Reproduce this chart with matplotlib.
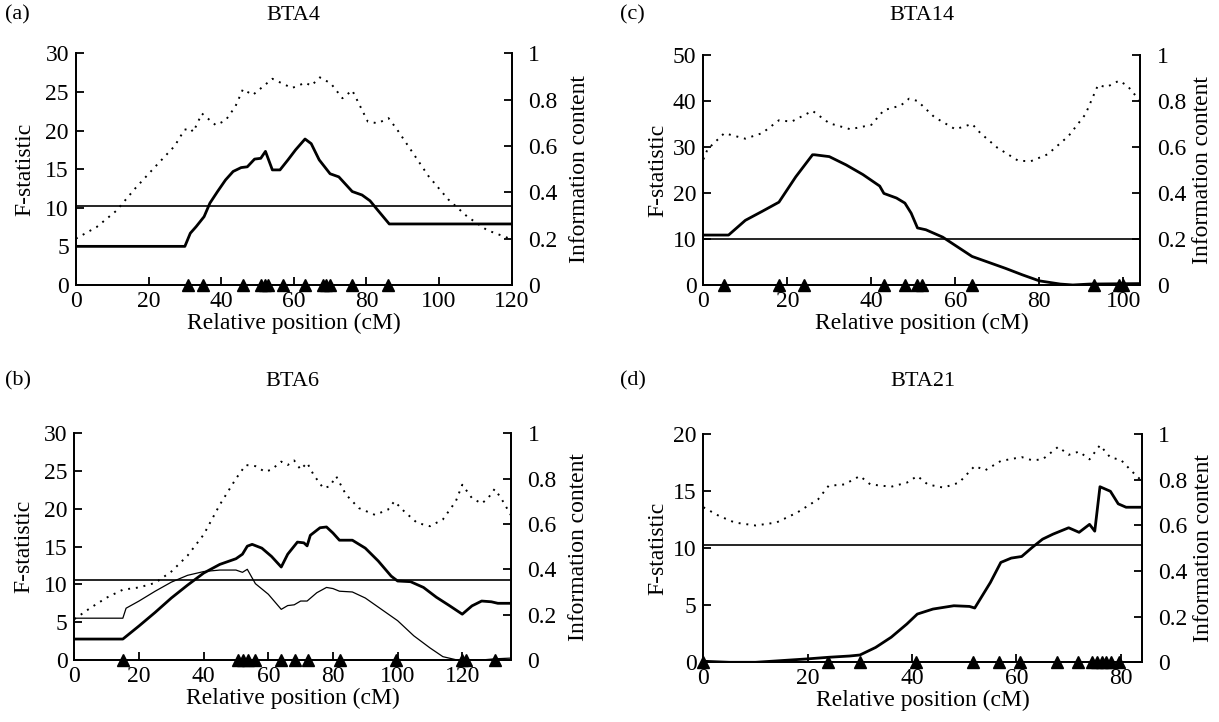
import matplotlib as mpl
mpl.use('Agg')
import matplotlib.pyplot as plt

plt.rcParams['font.family'] = ['Liberation Serif', 'DejaVu Serif']

# ---- (a) BTA4 ----
a_fx = [0, 30, 31.5, 33.1, 35.3, 36.9, 39, 41.2, 43.3, 45.5, 47.2, 49.2, 50.9, 52.2,
        54.1, 56.2, 58.4, 60.5, 63.1, 64.8, 67, 70, 72.4, 76.1, 78.8, 81, 83.1, 86.3, 120]
a_f = [5.0, 5.0, 6.7, 7.55, 8.85, 10.6, 12.1, 13.6, 14.7, 15.2, 15.3, 16.3, 16.4, 17.3,
       14.9, 14.9, 16.2, 17.5, 18.9, 18.3, 16.2, 14.4, 14.0, 12.1, 11.65, 10.9, 9.7, 7.9, 7.9]
a_ix = [0, 5.7, 11.1, 16.5, 21.8, 27.2, 29.9, 31.5, 32.3, 34.7, 38.5, 41.2, 43.9, 46, 48.7,
        54.1, 59.5, 63.2, 64.8, 67.2, 70.2, 73.4, 76.1, 77.7, 80.4, 83.1, 86.1, 88.5, 92.8,
        97.1, 102.5, 107.8, 113.2, 120]
a_info = [0.20, 0.25, 0.32, 0.42, 0.51, 0.60, 0.67, 0.676, 0.66, 0.74, 0.69, 0.71, 0.77, 0.845,
          0.82, 0.89, 0.85, 0.873, 0.86, 0.896, 0.87, 0.806, 0.84, 0.79, 0.705, 0.698, 0.72,
          0.67, 0.57, 0.47, 0.37, 0.295, 0.237, 0.197]
a_markers = [31, 35, 46, 51, 52, 53, 57, 63, 68, 69, 70, 76, 86]
a_thresh = 10.2

# ---- (c) BTA14 ----
c_fx = [0, 6, 10, 14, 18, 22, 26, 26.5, 30, 34, 38, 42, 43, 46, 48, 49.5, 51, 53, 57, 60,
        64, 68, 72, 76, 80, 85, 88, 92, 104]
c_f = [10.85, 10.85, 14.05, 16.0, 18.0, 23.5, 28.3, 28.3, 27.9, 26.1, 24.0, 21.5, 19.9, 18.9,
       17.8, 15.6, 12.4, 12.0, 10.4, 8.6, 6.2, 4.9, 3.6, 2.2, 0.9, 0.2, 0.0, 0.2, 0.3]
c_ix = [0, 1, 5, 7, 10, 14, 18, 21, 26, 30, 35, 40, 43, 47, 49, 51, 55, 60, 64, 66, 70, 75,
        78, 82, 87, 91, 94, 96, 99, 101, 104]
c_info = [0.546, 0.59, 0.66, 0.65, 0.636, 0.66, 0.716, 0.71, 0.757, 0.703, 0.677, 0.696, 0.76,
          0.78, 0.81, 0.80, 0.73, 0.677, 0.70, 0.66, 0.597, 0.54, 0.538, 0.568, 0.648, 0.742,
          0.869, 0.86, 0.888, 0.866, 0.80]
c_markers = [5, 18, 24, 43, 48, 51, 52, 64, 93, 99, 100]
c_thresh = 10.1

# ---- (b) BTA6 ----
b_fx = [0, 15, 20, 25, 30, 35, 40, 45, 50, 52, 53.5, 55, 58, 61, 64, 66, 69, 71, 72, 73, 76,
        78, 80, 82, 86, 90, 94, 98, 100, 104, 108, 112, 116, 120, 123, 126, 129, 131, 135]
b_f = [2.77, 2.77, 4.5, 6.3, 8.2, 9.9, 11.5, 12.65, 13.4, 14.0, 15.06, 15.3, 14.8, 13.7, 12.3,
       14.0, 15.6, 15.5, 15.1, 16.5, 17.5, 17.6, 16.8, 15.85, 15.85, 14.8, 13.1, 11.1, 10.45,
       10.36, 9.6, 8.3, 7.2, 6.06, 7.16, 7.8, 7.7, 7.5, 7.5]
b_f2x = [0, 15, 16, 20, 25, 30, 35, 40, 45, 50, 52, 53.5, 56, 60, 64, 66, 68, 70, 72, 75, 78,
         80, 82, 86, 90, 95, 100, 105, 110, 114, 118, 120, 126, 130, 135]
b_f2 = [5.53, 5.53, 6.85, 7.8, 9.1, 10.3, 11.2, 11.7, 11.9, 11.9, 11.6, 12.0, 10.1, 8.7, 6.7,
        7.2, 7.3, 7.8, 7.8, 8.9, 9.6, 9.45, 9.1, 9.0, 8.2, 6.7, 5.2, 3.2, 1.6, 0.44, 0.04, 0.0,
        0.0, 0.15, 0.25]
b_ix = [0, 5, 10, 15, 20, 25, 30, 35, 40, 45, 50, 53, 56, 59, 61, 64, 66, 68, 70, 72, 74, 77,
        79, 81, 84, 88, 93, 97, 99, 102, 106, 110, 114, 118, 120, 123, 126, 128, 130, 132, 135]
b_info = [0.18, 0.23, 0.275, 0.31, 0.32, 0.34, 0.39, 0.46, 0.553, 0.685, 0.80, 0.86, 0.855,
          0.83, 0.84, 0.875, 0.86, 0.88, 0.84, 0.87, 0.817, 0.758, 0.766, 0.81, 0.73, 0.67,
          0.64, 0.663, 0.70, 0.656, 0.605, 0.59, 0.62, 0.70, 0.773, 0.714, 0.69, 0.714, 0.754,
          0.714, 0.64]
b_markers = [15, 50.7, 52.3, 53.7, 55.9, 64, 68.2, 72.2, 82.2, 99.4, 119.9, 121.1, 130.2]
b_thresh = 10.55

# ---- (d) BTA21 ----
d_fx = [0, 5, 10, 15, 20, 24, 28, 30, 33, 36, 39, 41, 44, 48, 51, 52, 55, 57, 59, 61, 63, 65,
        67, 70, 72, 74, 75, 76, 78, 79.5, 81, 84]
d_f = [0.09, 0.0, 0.0, 0.15, 0.3, 0.44, 0.55, 0.64, 1.3, 2.2, 3.36, 4.23, 4.67, 4.96, 4.9, 4.76,
       7.0, 8.76, 9.14, 9.28, 10.07, 10.8, 11.24, 11.8, 11.4, 12.1, 11.5, 15.4, 15.0, 13.9,
       13.6, 13.6]
d_ix = [0, 3, 6, 10, 14, 18, 22, 24, 27, 30, 32, 36, 39, 41, 43, 46, 49, 52, 54, 57, 61, 63,
        65, 68, 70, 72, 74, 76, 78, 80, 82, 84]
d_info = [0.68, 0.642, 0.613, 0.60, 0.613, 0.657, 0.715, 0.774, 0.78, 0.817, 0.78, 0.77, 0.788,
          0.817, 0.78, 0.766, 0.788, 0.861, 0.842, 0.883, 0.90, 0.886, 0.89, 0.945, 0.91, 0.924,
          0.89, 0.952, 0.898, 0.888, 0.84, 0.796]
d_markers = [0, 23.9, 30, 40.7, 51.7, 56.7, 60.7, 67.8, 71.7, 74.4, 75.4, 76.3, 77.2, 78.1, 79.6]
d_thresh = 10.3

panels = [
    dict(tag='(a)', title='BTA4', rect=[0.0623, 0.6053, 0.3574, 0.3209], xmax=120,
         xticks=range(0, 121, 20), fmax=30, fstep=5, head_y=0.979, tag_x=0.004,
         lpad=7, rpad=8,
         fx=a_fx, f=a_f, ix=a_ix, info=a_info, marks=a_markers, thr=a_thresh),
    dict(tag='(c)', title='BTA14', rect=[0.577, 0.6053, 0.3582, 0.3186], xmax=104,
         xticks=range(0, 101, 20), fmax=50, fstep=10, head_y=0.979, tag_x=0.509,
         lpad=3.5, rpad=4,
         fx=c_fx, f=c_f, ix=c_ix, info=c_info, marks=c_markers, thr=c_thresh),
    dict(tag='(b)', title='BTA6', rect=[0.0610, 0.0859, 0.358, 0.314], xmax=135,
         xticks=range(0, 121, 20), fmax=30, fstep=5, head_y=0.472, tag_x=0.004,
         lpad=7, rpad=8,
         fx=b_fx, f=b_f, ix=b_ix, info=b_info, marks=b_markers, thr=b_thresh),
    dict(tag='(d)', title='BTA21', rect=[0.577, 0.0827, 0.3596, 0.3158], xmax=84,
         xticks=range(0, 81, 20), fmax=20, fstep=5, head_y=0.472, tag_x=0.509,
         lpad=3.5, rpad=4,
         fx=d_fx, f=d_f, ix=d_ix, info=d_info, marks=d_markers, thr=d_thresh),
]

fig = plt.figure(figsize=(12.19, 7.22), dpi=100)
fs = 17

for p in panels:
    ax = fig.add_axes(p['rect'])
    ax2 = ax.twinx()
    ax.set_zorder(ax2.get_zorder() + 1)
    ax.patch.set_visible(False)

    ax2.plot(p['ix'], p['info'], color='black', lw=1.4, ls=(0, (1, 3)))
    ax.plot(p['fx'], p['f'], color='black', lw=2.0, solid_joinstyle='round')
    if p['tag'] == '(b)':
        ax.plot(b_f2x, b_f2, color='black', lw=0.9)
    ax.axhline(p['thr'], color='black', lw=1.2)
    ax.plot(p['marks'], [0] * len(p['marks']), ls='none', marker='^', ms=8,
            color='black', clip_on=False, zorder=5)

    ax.set_xlim(0, p['xmax'])
    ax.set_ylim(0, p['fmax'])
    ax2.set_ylim(0, 1)
    ax.set_xticks(list(p['xticks']))
    ax.set_yticks(range(0, p['fmax'] + 1, p['fstep']))
    ax2.set_yticks([0, 0.2, 0.4, 0.6, 0.8, 1])
    ax2.set_yticklabels(['0', '0.2', '0.4', '0.6', '0.8', '1'])

    for a in (ax, ax2):
        a.spines['top'].set_visible(False)
        for s in a.spines.values():
            s.set_linewidth(1.3)
        a.tick_params(direction='in', length=6, width=1.3, labelsize=fs, pad=5)
    ax.tick_params(axis='x', pad=4)
    ax2.tick_params(axis='y', pad=12)

    ax.set_xlabel('Relative position (cM)', fontsize=fs, labelpad=1)
    ax.set_ylabel('F-statistic', fontsize=fs, labelpad=p['lpad'])
    ax2.set_ylabel('Information content', fontsize=fs, labelpad=p['rpad'])

    l, b, w, h = p['rect']
    fig.text(l + w / 2, p['head_y'], p['title'], fontsize=16, ha='center', va='center')
    fig.text(p['tag_x'], p['head_y'], p['tag'], fontsize=16, ha='left', va='center')

fig.savefig('out.png', dpi=100)
